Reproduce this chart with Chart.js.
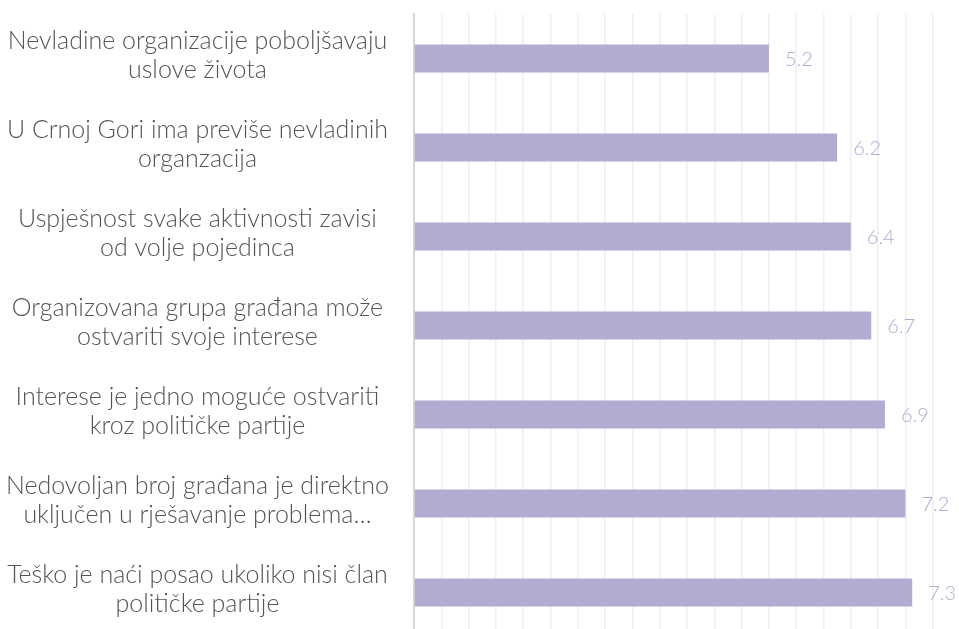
<!DOCTYPE html>
<html>
<head>
<meta charset="utf-8">
<script src="https://cdn.jsdelivr.net/npm/chart.js@4.4.0/dist/chart.umd.min.js"></script>
<style>
    html, body { margin: 0; padding: 0; overflow: hidden; background: #fff; }
    #wrap { position: relative; width: 960px; height: 637px; }
</style>
</head>
<body>
<div id="wrap"><canvas id="chart"></canvas></div>
<script>
// Categories (each label split into its two lines)
const categories = [
    ['Nevladine organizacije poboljšavaju', 'uslove života'],
    ['U Crnoj Gori ima previše nevladinih', 'organzacija'],
    ['Uspješnost svake aktivnosti zavisi', 'od volje pojedinca'],
    ['Organizovana grupa građana može', 'ostvariti svoje interese'],
    ['Interese je jedno moguće ostvariti', 'kroz političke partije'],
    ['Nedovoljan broj građana je direktno', 'uključen u rješavanje problema…'],
    ['Teško je naći posao ukoliko nisi član', 'političke partije']
];
const values = [5.2, 6.2, 6.4, 6.7, 6.9, 7.2, 7.3];

// x axis range (no tick labels shown, only grid)
const axisMin = 0;
const axisMax = 8;
const axisStep = 0.4;

const barColor = '#b1acd2';
const labelColor = '#555555';

// Draw the value next to the end of each bar
const valueLabels = {
    id: 'valueLabels',
    afterDatasetsDraw(chart) {
        const ctx = chart.ctx;
        const meta = chart.getDatasetMeta(0);
        ctx.save();
        ctx.font = '300 20px Lato';
        ctx.fillStyle = barColor;
        ctx.textBaseline = 'middle';
        ctx.textAlign = 'left';
        meta.data.forEach((bar, i) => {
            ctx.fillText(values[i].toFixed(1), bar.x + 16, bar.y + 1);
        });
        ctx.restore();
    }
};

const ctx = document.getElementById('chart').getContext('2d');

new Chart(ctx, {
    type: 'bar',
    data: {
        labels: categories,
        datasets: [{
            data: values,
            backgroundColor: barColor,
            borderWidth: 0,
            categoryPercentage: 1,
            barPercentage: 0.315
        }]
    },
    plugins: [valueLabels],
    options: {
        indexAxis: 'y',
        responsive: true,
        maintainAspectRatio: false,
        animation: false,
        layout: { padding: { top: 14, right: 0, bottom: 0, left: 0 } },
        plugins: {
            legend: { display: false },
            tooltip: { enabled: false }
        },
        scales: {
            x: {
                min: axisMin,
                max: axisMax,
                ticks: { display: false, stepSize: axisStep },
                grid: { color: '#efefef', lineWidth: 1.5, drawTicks: false },
                border: { display: false }
            },
            y: {
                afterFit(scale) {
                    // fixed axis width, and let the labels overflow the top/bottom
                    scale.width = 414;
                    scale.paddingTop = 0;
                    scale.paddingBottom = 0;
                },
                grid: { display: false, drawTicks: false },
                border: { display: true, color: '#d6d6d6', width: 2 },
                ticks: {
                    crossAlign: 'center',
                    padding: 25,
                    labelOffset: -3,
                    color: labelColor,
                    font: { family: 'Lato', weight: '300', size: 25, lineHeight: 1.14 }
                }
            }
        }
    }
});
</script>
</body>
</html>
